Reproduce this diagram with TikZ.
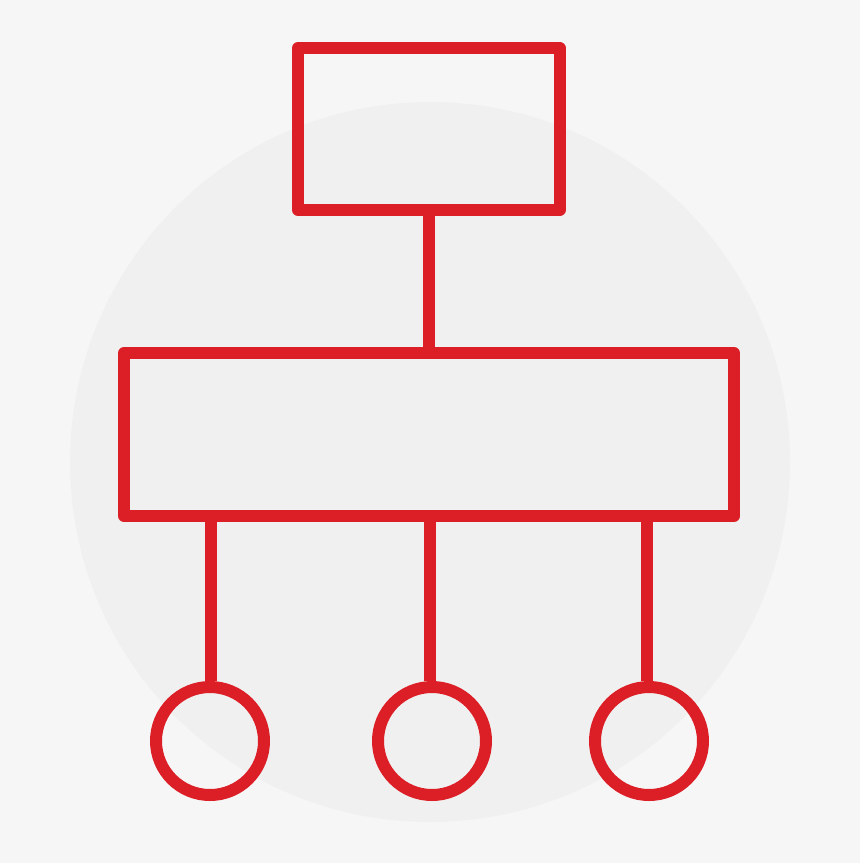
\documentclass[tikz,border=0pt]{standalone}
\usepackage{tikz}
\usetikzlibrary{calc}
\definecolor{bgcol}{HTML}{F6F6F6}
\definecolor{discol}{HTML}{F0F0F0}
\definecolor{redcol}{HTML}{DC1F27}
\tikzset{>=latex,
  box/.style={draw=redcol,line width=12pt,rectangle,line join=round,inner sep=0pt},
  leaf/.style={draw=redcol,line width=12pt,circle,inner sep=0pt,minimum size=108pt},
  link/.style={draw=redcol,line width=12pt}}
\begin{document}
\begin{tikzpicture}[x=1pt,y=-1pt]
  % 背景与灰色圆盘
  \fill[bgcol] (0,0) rectangle (860,863);
  \fill[discol] (430,462) circle (360pt);
  % 上下两个矩形
  \node[box,minimum width=261.5pt,minimum height=162pt] (top) at (428.75,129) {};
  \node[box,minimum width=610pt,minimum height=163pt] (mid) at (429,434.5) {};
  % 底部三个圆
  \foreach \x [count=\k] in {210,432,649}
    \node[leaf] (leaf\k) at (\x,741) {};
  % 连线
  \draw[link] (top.south) -- (top.south |- mid.north);
  \foreach \x [count=\k] in {211,429.5,647}
    \draw[link] (\x,0 |- mid.south) -- (\x,0 |- leaf\k.north);
\end{tikzpicture}
\end{document}
